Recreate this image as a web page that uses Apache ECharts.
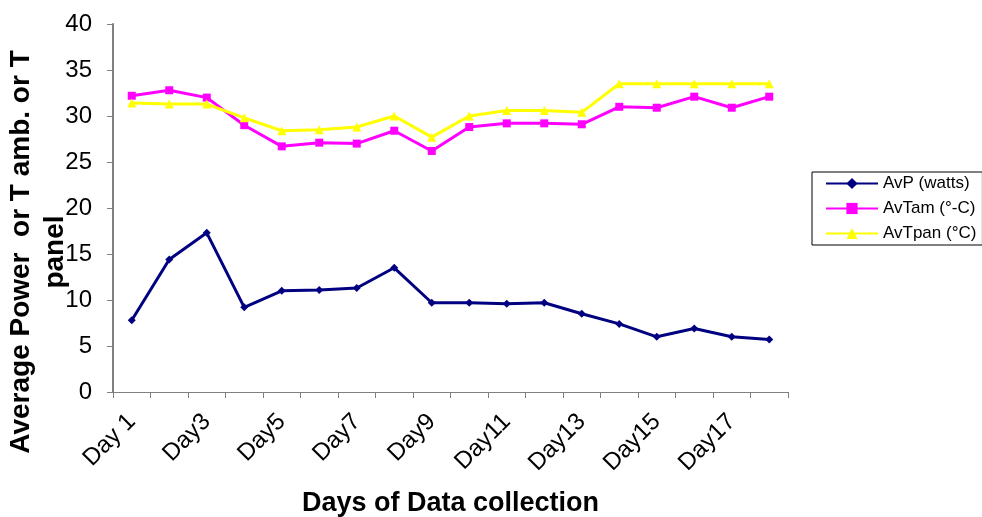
<!DOCTYPE html>
<html>
<head>
<meta charset="utf-8">
<script src="https://cdn.jsdelivr.net/npm/echarts@6/dist/echarts.min.js"></script>
<style>
  html, body { margin: 0; padding: 0; background: #fff; }
  #chart { width: 982px; height: 517px; }
</style>
</head>
<body>
<div id="chart"></div>
<script>
// Daily averages over the collection period
const days = ['Day 1', 'Day2', 'Day3', 'Day4', 'Day5', 'Day6', 'Day7', 'Day8', 'Day9',
  'Day10', 'Day11', 'Day12', 'Day13', 'Day14', 'Day15', 'Day16', 'Day17', 'Day18'];

const avP = [7.8, 14.4, 17.3, 9.2, 11.0, 11.1, 11.3, 13.5, 9.7,
  9.7, 9.6, 9.7, 8.5, 7.4, 6.0, 6.9, 6.0, 5.7];

const avTam = [32.2, 32.8, 32.0, 29.0, 26.7, 27.1, 27.0, 28.4, 26.2,
  28.8, 29.2, 29.2, 29.1, 31.0, 30.9, 32.1, 30.9, 32.1];

const avTpan = [31.4, 31.3, 31.3, 29.8, 28.4, 28.5, 28.8, 30.0, 27.7,
  30.0, 30.6, 30.6, 30.4, 33.5, 33.5, 33.5, 33.5, 33.5];

const seriesNames = ['AvP (watts)', 'AvTam (°-C)', 'AvTpan (°C)'];

const font = 'Liberation Sans, Arial, sans-serif';
const axisGray = '#808080';

const chart = echarts.init(document.getElementById('chart'), null, { renderer: 'canvas' });

chart.setOption({
  animation: false,
  backgroundColor: '#ffffff',
  textStyle: { fontFamily: font },
  grid: {
    left: 113, right: 194, top: 24, bottom: 125,
    containLabel: false,
    outerBoundsMode: 'none'
  },
  legend: {
    orient: 'vertical',
    left: 812,
    top: 172,
    data: seriesNames,
    itemWidth: 52,
    itemHeight: 14,
    itemGap: 8,
    padding: [3, 6, 3, 13],
    borderColor: '#000',
    borderWidth: 1,
    textStyle: { fontFamily: font, fontSize: 17, color: '#000' }
  },
  xAxis: {
    type: 'category',
    data: days,
    boundaryGap: true,
    name: 'Days of Data collection',
    nameLocation: 'middle',
    nameGap: 98,
    nameMoveOverlap: false,
    nameTextStyle: { fontFamily: font, fontSize: 27, fontWeight: 'bold', color: '#000' },
    axisLine: { lineStyle: { color: axisGray, width: 1 } },
    axisTick: { show: true, interval: 0, length: 6, lineStyle: { color: axisGray } },
    axisLabel: {
      interval: 1,
      rotate: 45,
      margin: 26,
      fontFamily: font,
      fontSize: 24,
      color: '#000'
    },
    splitLine: { show: false }
  },
  yAxis: {
    type: 'value',
    min: 0,
    max: 40,
    interval: 5,
    name: 'Average Power  or T amb. or T\npanel',
    nameLocation: 'middle',
    nameGap: 41,
    nameMoveOverlap: false,
    nameTextStyle: {
      fontFamily: font,
      fontSize: 28,
      fontWeight: 'bold',
      color: '#000',
      lineHeight: 34,
      padding: [0, 88, 0, 0]
    },
    axisLine: { show: true, lineStyle: { color: axisGray, width: 2 } },
    axisTick: { show: true, length: 6, lineStyle: { color: axisGray } },
    axisLabel: { margin: 21, fontFamily: font, fontSize: 24, color: '#000' },
    splitLine: { show: false }
  },
  series: [
    {
      name: seriesNames[0],
      type: 'line',
      data: avP,
      symbol: 'diamond',
      symbolSize: 8,
      color: '#000080',
      lineStyle: { width: 3, color: '#000080' },
      itemStyle: { color: '#000080' }
    },
    {
      name: seriesNames[1],
      type: 'line',
      data: avTam,
      symbol: 'rect',
      symbolSize: 8,
      color: '#ff00ff',
      lineStyle: { width: 3, color: '#ff00ff' },
      itemStyle: { color: '#ff00ff' }
    },
    {
      name: seriesNames[2],
      type: 'line',
      data: avTpan,
      symbol: 'triangle',
      symbolSize: 9,
      color: '#ffff00',
      lineStyle: { width: 3, color: '#ffff00' },
      itemStyle: { color: '#ffff00' }
    }
  ]
});
</script>
</body>
</html>
